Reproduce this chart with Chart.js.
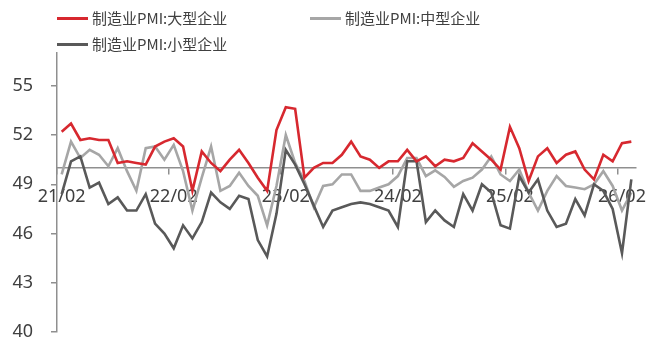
<!DOCTYPE html>
<html lang="zh">
<head>
<meta charset="UTF-8">
<title>制造业PMI</title>
<script src="https://cdn.jsdelivr.net/npm/chart.js"></script>
<style>
    body { margin: 0; background: #fff; }
    .wrap { position: relative; width: 646px; height: 338px; }
    .legenda { position: absolute; font: 15px "Noto Sans CJK SC", sans-serif; color: #404040; white-space: nowrap; line-height: 20px; }
    .legenda span { display: inline-block; width: 31px; height: 3px; vertical-align: middle; margin-right: 4px; position: relative; top: -1px; }
</style>
</head>
<body>
<div class="wrap">
    <canvas id="grafico"></canvas>
    <div class="legenda" style="left:57px; top:8px"><span style="background:#d7282f"></span>制造业PMI:大型企业</div>
    <div class="legenda" style="left:310px; top:8px"><span style="background:#a6a6a6"></span>制造业PMI:中型企业</div>
    <div class="legenda" style="left:57px; top:34px"><span style="background:#595959"></span>制造业PMI:小型企业</div>
</div>
<script>
    // meses (aa/mm)
    const meses = [
        '21/02','21/03','21/04','21/05','21/06','21/07','21/08','21/09','21/10','21/11','21/12',
        '22/01','22/02','22/03','22/04','22/05','22/06','22/07','22/08','22/09','22/10','22/11','22/12',
        '23/01','23/02','23/03','23/04','23/05','23/06','23/07','23/08','23/09','23/10','23/11','23/12',
        '24/01','24/02','24/03','24/04','24/05','24/06','24/07','24/08','24/09','24/10','24/11','24/12',
        '25/01','25/02','25/03','25/04','25/05','25/06','25/07','25/08','25/09','25/10','25/11','25/12',
        '26/01','26/02','26/03'
    ];

    const grande = [
        52.2, 52.7, 51.7, 51.8, 51.7, 51.7, 50.3, 50.4, 50.3, 50.2, 51.3,
        51.6, 51.8, 51.3, 48.6, 51.0, 50.3, 49.8, 50.5, 51.1, 50.3, 49.4, 48.6,
        52.3, 53.7, 53.6, 49.4, 50.0, 50.3, 50.3, 50.8, 51.6, 50.7, 50.5, 50.0,
        50.4, 50.4, 51.1, 50.4, 50.7, 50.1, 50.5, 50.4, 50.6, 51.5, 51.0, 50.5,
        49.9, 52.5, 51.2, 49.2, 50.7, 51.2, 50.3, 50.8, 51.0, 49.9, 49.3, 50.8,
        50.4, 51.5, 51.6
    ];

    const medio = [
        49.6, 51.6, 50.6, 51.1, 50.8, 50.1, 51.2, 49.8, 48.6, 51.2, 51.3,
        50.5, 51.4, 49.8, 47.4, 49.4, 51.3, 48.6, 48.9, 49.7, 48.9, 48.3, 46.5,
        48.9, 52.0, 50.3, 49.2, 47.6, 48.9, 49.0, 49.6, 49.6, 48.6, 48.6, 48.8,
        49.0, 49.5, 50.6, 50.6, 49.5, 49.85, 49.45, 48.85, 49.2, 49.4, 49.9, 50.7,
        49.6, 49.2, 49.9, 48.5, 47.4, 48.6, 49.5, 48.9, 48.8, 48.7, 49.0, 49.8,
        48.9, 47.4, 48.5
    ];

    const pequeno = [
        48.4, 50.4, 50.7, 48.8, 49.1, 47.8, 48.2, 47.4, 47.4, 48.4, 46.6,
        46.0, 45.1, 46.5, 45.7, 46.7, 48.5, 47.9, 47.5, 48.3, 48.1, 45.6, 44.6,
        47.2, 51.1, 50.2, 49.0, 47.7, 46.4, 47.4, 47.6, 47.8, 47.9, 47.8, 47.6,
        47.4, 46.4, 50.4, 50.4, 46.7, 47.4, 46.8, 46.4, 48.4, 47.4, 49.0, 48.5,
        46.5, 46.3, 49.5, 48.5, 49.3, 47.4, 46.4, 46.6, 48.1, 47.1, 49.0, 48.6,
        47.5, 44.8, 49.3
    ];

    const marcasY = [40, 43, 46, 49, 52, 55];

    const corTexto = '#404040';
    const corEixo = '#8f8f8f';

    let dados = {
        labels: meses,
        datasets: [
            { label: '制造业PMI:大型企业', data: grande, borderColor: '#d7282f', order: 0 },
            { label: '制造业PMI:中型企业', data: medio, borderColor: '#a6a6a6', order: 2 },
            { label: '制造业PMI:小型企业', data: pequeno, borderColor: '#595959', order: 1 }
        ]
    };

    dados.datasets.forEach(d => {
        d.borderWidth = 2.6;
        d.pointRadius = 0;
        d.tension = 0;
        d.fill = false;
    });

    const config = {
        type: 'line',
        data: dados,
        options: {
            responsive: true,
            maintainAspectRatio: false,
            animation: false,
            layout: { padding: { top: 53, bottom: 6, right: 10, left: 0 } },
            plugins: { legend: { display: false }, tooltip: { enabled: false } },
            scales: {
                x: {
                    type: 'category',
                    position: { y: 50 },
                    offset: true,
                    border: { color: corEixo, width: 1.5 },
                    grid: {
                        drawOnChartArea: false,
                        offset: true,
                        tickLength: 6,
                        lineWidth: 1.5,
                        color: ctx => (ctx.index % 12 === 0 ? corEixo : 'rgba(0,0,0,0)')
                    },
                    ticks: {
                        autoSkip: false,
                        maxRotation: 0,
                        padding: 12,
                        color: corTexto,
                        font: { family: 'Noto Sans', size: 18 },
                        callback: function (v, i) { return i % 12 === 0 ? this.getLabelForValue(v) : ''; }
                    },
                    afterFit: s => { s.height = 0; s.paddingLeft = 0; s.paddingRight = 0; }
                },
                y: {
                    min: 40,
                    max: 57,
                    border: { color: corEixo, width: 1.5 },
                    grid: { drawOnChartArea: false, tickLength: 6, lineWidth: 1.5, color: corEixo },
                    ticks: {
                        padding: 18,
                        color: corTexto,
                        font: { family: 'Noto Sans', size: 18 }
                    },
                    afterBuildTicks: s => { s.ticks = marcasY.map(v => ({ value: v })); },
                    afterFit: s => { s.width = 57; s.paddingTop = 0; s.paddingBottom = 0; }
                }
            }
        }
    };

    let meuGrafico = new Chart(document.getElementById('grafico'), config);
</script>
</body>
</html>
